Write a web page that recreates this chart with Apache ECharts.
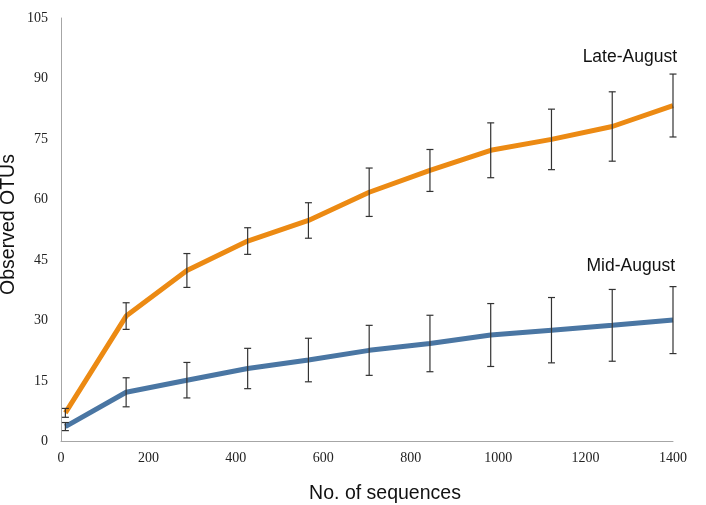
<!DOCTYPE html>
<html>
<head>
<meta charset="utf-8">
<script src="https://cdn.jsdelivr.net/npm/echarts@6/dist/echarts.min.js"></script>
<style>html,body{margin:0;padding:0;background:#fff;}#c{width:706px;height:505px;}</style>
</head>
<body>
<div id="c"></div>
<script>
var sequences = [10, 149, 288, 427, 566, 705, 844, 983, 1122, 1261, 1400];
var lateAugust = [7.1, 31.1, 42.4, 49.7, 54.8, 61.8, 67.2, 72.2, 74.9, 78.1, 83.3];
var lateAugustErr = [1.1, 3.3, 4.2, 3.3, 4.4, 6.0, 5.2, 6.8, 7.5, 8.6, 7.8];
var midAugust = [3.7, 12.2, 15.2, 18.1, 20.2, 22.6, 24.3, 26.4, 27.6, 28.8, 30.1];
var midAugustErr = [1.0, 3.6, 4.4, 5.0, 5.4, 6.2, 7.0, 7.8, 8.1, 8.9, 8.3];
var seriesNames = ['Late-August', 'Mid-August'];
var xTitle = 'No. of sequences';
var yTitle = 'Observed OTUs';

function pairs(xs, ys) { return xs.map(function (x, i) { return [x, ys[i]]; }); }
function errData(xs, ys, es) { return xs.map(function (x, i) { return [x, ys[i] - es[i], ys[i] + es[i]]; }); }

function errorBarRender(params, api) {
  var x = api.value(0);
  var lo = api.coord([x, api.value(1)]);
  var hi = api.coord([x, api.value(2)]);
  var hw = 3.5;
  var st = { stroke: '#333', lineWidth: 1.2 };
  return {
    type: 'group',
    children: [
      { type: 'line', shape: { x1: lo[0], y1: lo[1], x2: hi[0], y2: hi[1] }, style: st },
      { type: 'line', shape: { x1: lo[0] - hw, y1: lo[1], x2: lo[0] + hw, y2: lo[1] }, style: st },
      { type: 'line', shape: { x1: hi[0] - hw, y1: hi[1], x2: hi[0] + hw, y2: hi[1] }, style: st }
    ]
  };
}

var chart = echarts.init(document.getElementById('c'));
chart.setOption({
  animation: false,
  backgroundColor: '#fff',
  grid: { left: 61, right: 33, top: 18, bottom: 63.5, containLabel: false, outerBoundsMode: 'none' },
  xAxis: {
    type: 'value', min: 0, max: 1400, interval: 200,
    name: xTitle, nameLocation: 'middle', nameGap: 42,
    nameTextStyle: { fontFamily: 'Liberation Sans', fontSize: 19.5, color: '#111', padding: [0, 0, 0, 36] },
    axisLine: { lineStyle: { color: '#a6a6a6', width: 1 } },
    axisTick: { show: false },
    splitLine: { show: false },
    axisLabel: { fontFamily: 'Liberation Serif', fontSize: 14, color: '#222', margin: 10,
      formatter: function (v) { return String(v); } }
  },
  yAxis: {
    type: 'value', min: 0, max: 105, interval: 15,
    axisLine: { show: true, lineStyle: { color: '#a6a6a6', width: 1 } },
    axisTick: { show: false },
    splitLine: { show: false },
    axisLabel: { fontFamily: 'Liberation Serif', fontSize: 14, color: '#222', margin: 13 }
  },
  series: [
    { name: seriesNames[0], type: 'line', data: pairs(sequences, lateAugust), showSymbol: false, symbol: 'none',
      lineStyle: { color: '#EC8A13', width: 5 }, z: 2 },
    { name: seriesNames[1], type: 'line', data: pairs(sequences, midAugust), showSymbol: false, symbol: 'none',
      lineStyle: { color: '#4A76A3', width: 5 }, z: 2 },
    { type: 'custom', renderItem: errorBarRender, data: errData(sequences, lateAugust, lateAugustErr), z: 5, encode: { x: 0, y: [1, 2] } },
    { type: 'custom', renderItem: errorBarRender, data: errData(sequences, midAugust, midAugustErr), z: 5, encode: { x: 0, y: [1, 2] } }
  ],
  graphic: [
    { type: 'text', x: 9, y: 224.5, rotation: Math.PI / 2,
      style: { text: yTitle, fontFamily: 'Liberation Sans', fontSize: 19.5, fill: '#111', align: 'center', verticalAlign: 'middle' } },
    { type: 'text', right: 29, top: 48, style: { text: seriesNames[0], fontFamily: 'Liberation Sans', fontSize: 17.5, fill: '#111' } },
    { type: 'text', right: 31, top: 257, style: { text: seriesNames[1], fontFamily: 'Liberation Sans', fontSize: 17.5, fill: '#111' } }
  ]
});
</script>
</body>
</html>
